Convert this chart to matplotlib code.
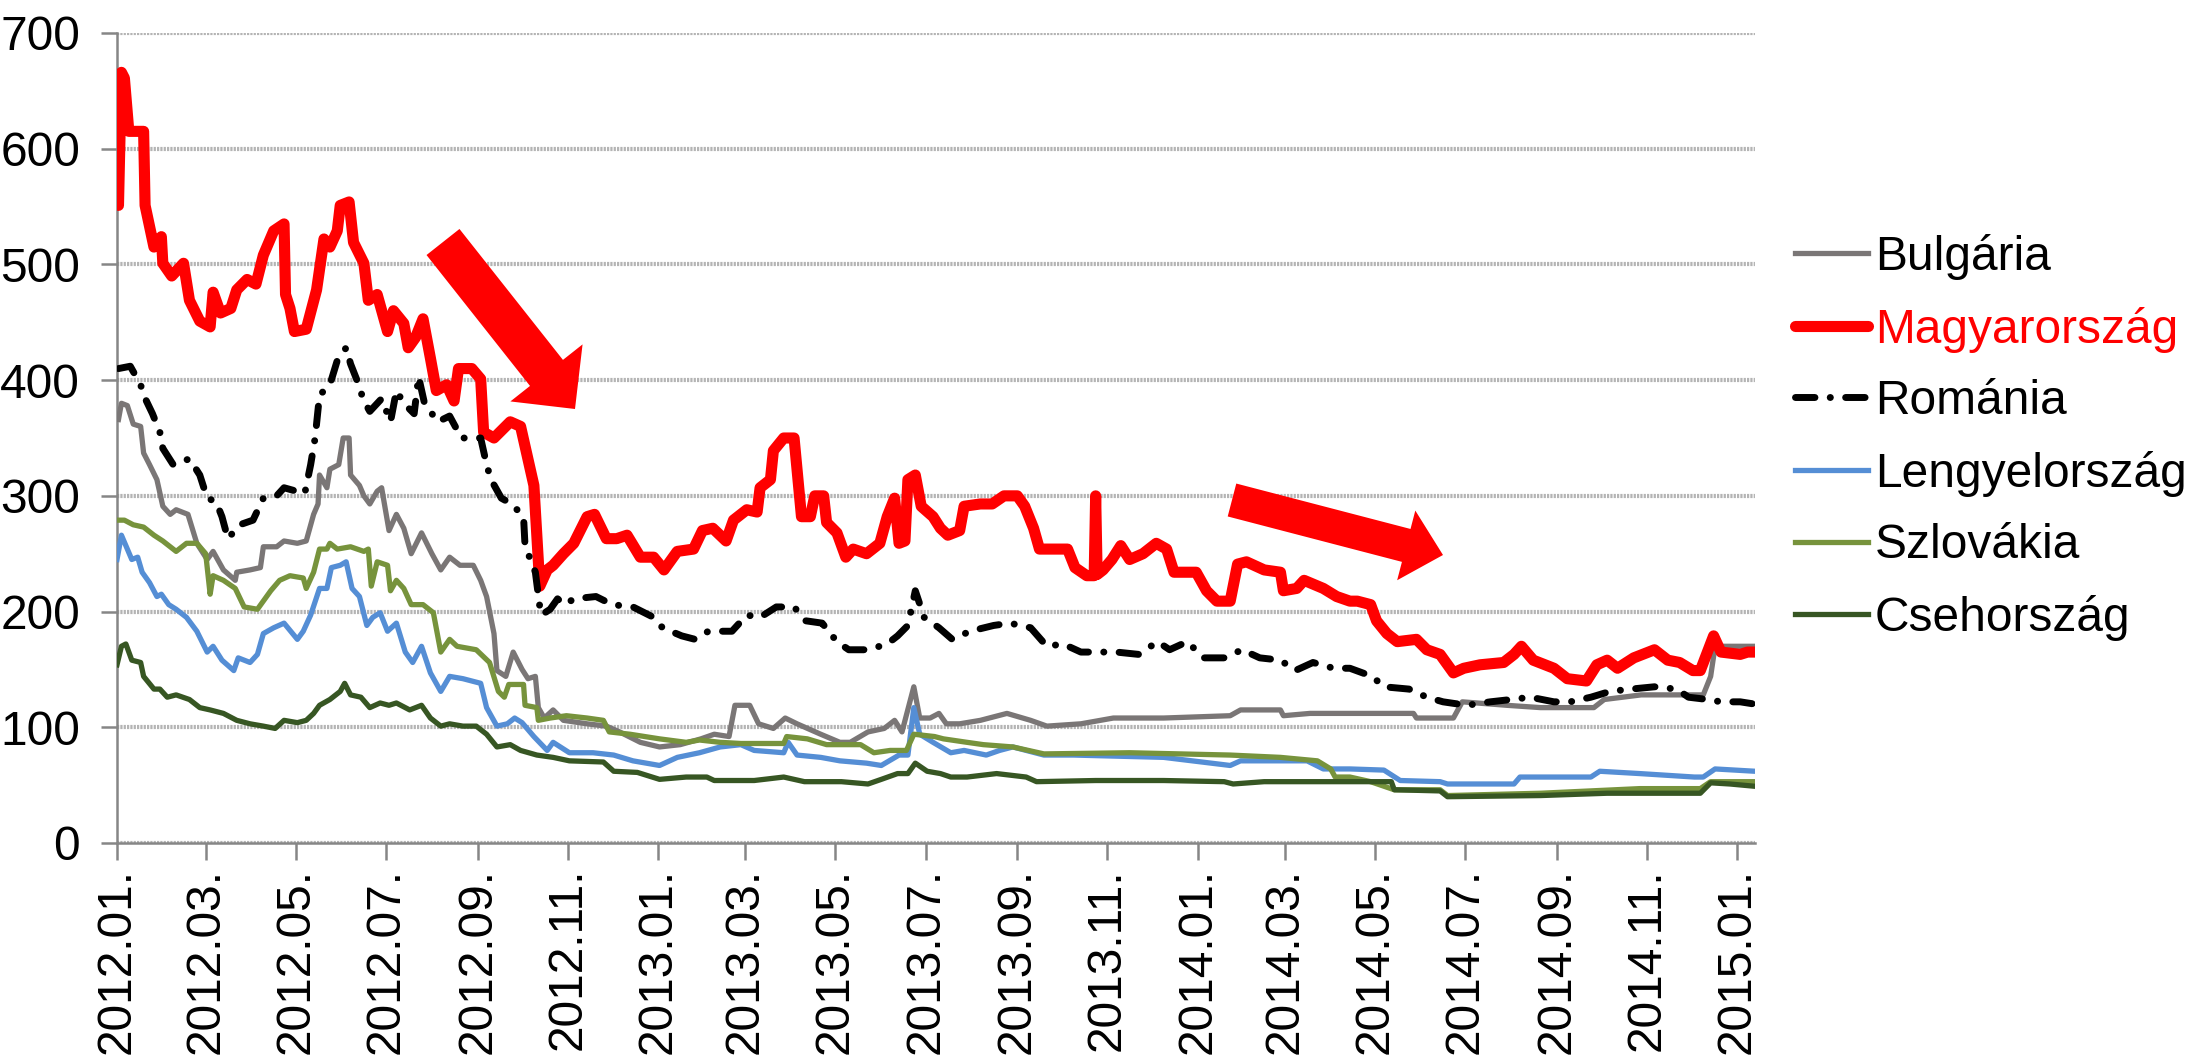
import numpy as np
import matplotlib
matplotlib.use("Agg")
import matplotlib.pyplot as plt
import matplotlib.dates as mdates
from matplotlib.patches import FancyArrow
from matplotlib.transforms import IdentityTransform

plt.rcParams['font.family'] = ['Liberation Sans', 'DejaVu Sans']
plt.rcParams['lines.scale_dashes'] = False

# days since 2012-01-01, spread values
bg_days = [1,3,7,11,16,18,22,27,31,36,40,48,54,61,65,72,80,81,90,97,99,108,113,122,128,133,136,137,142,144,
           150,153,157,158,164,167,171,176,179,184,189,194,199,206,213,219,225,232,241,246,250,255,257,263,268,
           274,278,283,285,289,295,302,318,331,340,354,367,381,395,404,414,418,428,434,444,452,460,476,489,496,
           508,519,526,531,539,543,550,556,
           561,570,584,602,618,629,652,674,708,753,760,787,789,807,834,
           877,879,904,910,940,963,999,1006,1031,1073,1078,1081,1108]
bg_vals = [366,380,378,362,360,337,327,314,291,284,288,284,259,245,252,236,227,234,236,238,256,256,261,259,261,
           284,293,318,307,323,327,350,350,318,309,300,293,304,307,270,284,272,250,268,250,236,247,240,240,227,
           213,181,149,144,165,
           150,142,144,117,108,115,106,103,101,96,87,83,85,90,94,92,119,119,103,99,108,103,94,87,87,
           96,99,106,96,135,108,108,112,
           103,103,106,112,106,101,103,108,108,110,115,115,110,112,112,
           112,108,108,122,119,117,117,124,128,128,144,170,170]

hu_days = [1,3,5,8,18,19,22,25,30,31,37,45,49,56,63,65,70,77,81,88,94,99,106,113,114,117,120,128,135,140,
           144,149,151,157,160,167,170,176,183,187,194,197,202,207,212,216,223,228,231,240,246,248,255,266,273,
           282,286,291,295,302,309,318,323,331,338,345,354,363,370,379,390,396,403,412,417,426,433,435,442,444,
           451,458,463,469,472,478,480,487,493,498,507,516,521,526,529,533,535,540,544,552,557,
           562,570,573,584,592,600,609,614,620,624,633,643,648,656,661,662,663,667,673,679,685,694,703,710,715,
           730,737,744,753,758,764,776,787,789,798,803,816,825,834,
           839,848,852,859,866,879,886,895,904,911,922,938,945,950,958,972,981,994,1001,1008,1015,1026,1040,
           1049,1057,1066,1071,1080,1085,1098,1103,1108]
hu_vals = [551,666,661,615,615,551,533,515,524,501,490,501,469,451,446,476,458,462,478,487,483,508,529,535,474,
           462,442,444,478,522,515,529,551,554,519,501,469,474,442,460,449,428,437,453,419,391,396,382,410,410,
           401,355,350,364,360,
           309,222,236,240,250,259,282,284,263,263,266,247,247,236,252,254,270,272,261,279,288,286,307,314,339,
           350,350,282,282,300,300,277,268,247,254,250,259,282,298,259,261,314,318,291,282,272,
           266,270,291,293,293,300,300,291,272,254,254,254,238,231,231,300,232,236,245,257,245,250,259,254,234,
           234,218,209,209,241,243,236,234,218,220,227,220,213,209,
           209,206,192,181,174,176,167,163,147,151,154,156,163,170,158,151,142,140,154,158,151,160,167,
           158,156,149,149,179,165,163,165,165]

ro_days = [1,9,16,18,24,29,31,38,49,56,61,67,71,75,83,92,99,108,113,127,131,134,137,144,149,155,158,162,167,171,
           179,185,189,194,201,204,208,217,225,233,246,250,253,260,267,275,
           276,283,286,287,293,298,303,309,324,335,349,363,369,382,391,400,416,426,435,446,458,466,477,487,495,
           508,521,528,535,540,546,556,
           565,577,593,604,618,629,640,652,667,676,691,704,712,724,735,749,761,773,787,797,809,823,834,
           849,857,874,886,897,913,929,943,956,972,983,997,1010,1024,1040,1055,1063,1076,1085,1098,1108]
ro_vals = [410,412,396,387,371,355,341,327,332,318,298,295,282,263,275,279,298,300,307,302,327,350,387,396,417,
           428,414,401,382,373,384,364,391,380,371,403,380,364,369,350,350,327,314,298,293,282,
           257,234,204,197,202,211,206,211,213,206,204,195,186,179,176,183,183,197,195,204,204,192,190,174,167,
           167,172,179,188,218,195,186,
           176,183,188,190,186,170,172,165,165,165,163,174,167,174,160,160,167,160,158,149,156,151,151,
           144,135,133,126,122,119,122,124,126,122,122,126,131,133,135,133,126,124,122,122,120]

pl_days = [0,3,7,10,14,17,22,27,30,35,40,47,54,61,65,71,79,82,90,95,99,106,113,122,126,131,137,142,145,151,
           155,159,164,169,173,178,183,189,195,200,206,212,219,225,234,246,250,257,264,269,
           274,282,291,295,306,322,336,349,367,379,394,408,422,431,451,454,460,476,489,507,517,529,535,539,543,552,
           564,573,588,597,606,627,647,708,753,760,805,816,834,
           857,868,895,900,945,949,997,1003,1030,1067,1073,1081,1108]
pl_vals = [245,266,254,245,247,234,225,213,215,206,202,195,183,165,170,158,149,160,156,163,181,186,190,176,183,
           197,220,220,238,240,243,220,213,188,195,199,183,190,165,156,170,147,131,144,142,138,117,101,103,108,
           104,92,80,87,78,78,76,71,67,74,78,83,85,80,78,87,76,74,71,69,67,76,76,117,94,87,
           78,80,76,80,83,76,76,74,67,71,71,64,64,
           63,54,53,51,51,57,57,62,60,57,57,64,62]

sk_days = [0,5,11,18,25,31,40,47,54,60,63,65,72,80,86,95,104,110,117,126,128,133,137,142,144,149,158,167,170,172,
           176,183,185,189,194,199,207,214,219,225,230,243,252,258,262,265,275,
           276,284,285,293,304,318,329,333,347,367,385,394,408,422,451,453,467,480,503,512,523,534,539,553,
           559,575,586,606,627,685,753,787,812,821,824,834,
           848,864,895,900,963,1030,1071,1078,1108]
sk_vals = [279,279,275,273,266,261,252,259,259,250,215,231,227,220,204,202,218,227,231,229,220,234,254,254,259,
           254,256,252,254,222,243,240,218,227,220,206,206,199,165,176,170,167,156,131,126,137,137,
           119,117,106,108,110,108,106,96,94,90,87,89,87,86,86,92,90,85,85,78,80,80,94,92,
           90,87,85,83,77,78,76,74,71,64,57,57,
           53,46,46,41,43,47,47,53,53]

cz_days = [0,3,6,10,16,18,25,29,34,40,49,56,63,72,81,90,99,107,113,122,128,133,137,144,151,154,158,165,171,178,
           184,189,198,206,212,219,225,234,243,250,257,266,
           273,284,295,306,329,336,352,367,385,399,404,431,451,465,490,508,517,528,535,540,548,557,
           564,575,595,615,622,662,708,749,755,776,834,
           862,864,895,900,963,1008,1071,1078,1091,1108]
cz_vals = [154,170,172,158,156,144,133,133,126,128,124,117,115,112,106,103,101,99,106,104,106,112,119,124,131,
           138,128,126,117,121,119,121,115,119,108,101,103,101,101,94,83,85,
           80,76,74,71,70,62,61,55,57,57,54,54,57,53,53,51,55,60,60,69,62,60,
           57,57,60,57,53,54,54,53,51,53,53,
           53,46,45,40,41,43,43,52,51,49]

labels = ['Bulgária', 'Magyarország', 'Románia', 'Lengyelország', 'Szlovákia', 'Csehország']

base = np.datetime64('2012-01-01')
def dt(days):
    return base + np.array(days).astype('timedelta64[D]')

fig = plt.figure(figsize=(21.9, 10.61), dpi=100)
ax = fig.add_axes([117/2190, 1 - 843/1061, (1755-117)/2190, (843-33)/1061])

thin = 3.8
ax.plot(dt(bg_days), bg_vals, color='#7a7676', lw=thin, label=labels[0], zorder=3)
ax.plot(dt(hu_days), hu_vals, color='#ff0000', lw=8.0, label=labels[1], zorder=4,
        solid_joinstyle='round', solid_capstyle='round')
ax.plot(dt(ro_days), ro_vals, color='black', lw=5.0, label=labels[2], zorder=5,
        linestyle=(0, (14, 11, 0.1, 11)), dash_capstyle='round')
ax.plot(dt(pl_days), pl_vals, color='#558ed5', lw=thin, label=labels[3], zorder=6)
ax.plot(dt(sk_days), sk_vals, color='#77933c', lw=thin, label=labels[4], zorder=7)
ax.plot(dt(cz_days), cz_vals, color='#375623', lw=thin, label=labels[5], zorder=8)

ax.set_xlim(np.datetime64('2012-01-01'), np.datetime64('2015-01-13'))
ax.set_ylim(0, 700)
ax.set_yticks(range(0, 701, 100))
ax.xaxis.set_major_locator(mdates.MonthLocator(bymonth=[1, 3, 5, 7, 9, 11]))
ax.xaxis.set_major_formatter(mdates.DateFormatter('%Y.%m.'))

ax.grid(axis='y', color='#b4b4b4', lw=3.0, linestyle=(0, (1.6, 0.8)))
ax.set_axisbelow(True)
for s in ['top', 'right']:
    ax.spines[s].set_visible(False)
for s in ['left', 'bottom']:
    ax.spines[s].set_color('#868686')
    ax.spines[s].set_linewidth(1.8)

ax.tick_params(axis='y', labelsize=34.5, length=11.5, width=1.8, color='#868686', pad=15)
ax.tick_params(axis='x', labelsize=34.5, length=12, width=1.8, color='#868686', pad=6,
               labelrotation=90)

leg = ax.legend(loc='upper left', bbox_to_anchor=(1795/2190, 1 - 234/1061),
                bbox_transform=fig.transFigure, frameon=False, fontsize=34.5,
                handlelength=1.52, handletextpad=0.15, labelspacing=0.555,
                borderpad=0, borderaxespad=0)
leg.get_texts()[1].set_color('#ff0000')

# red block arrows (image pixel coordinates, y measured from top)
H = 1061
for (x0, y0, x1, y1, w, hw, hl) in [(443, 242, 575, 409, 42, 92, 46),
                                    (1232, 500, 1443, 555, 34, 72, 38)]:
    arr = FancyArrow(x0, H - y0, x1 - x0, -(y1 - y0), width=w, head_width=hw,
                     head_length=hl, length_includes_head=True, color='#ff0000',
                     lw=0, transform=IdentityTransform(), zorder=10)
    fig.add_artist(arr)

fig.savefig('out.png', dpi=100)
